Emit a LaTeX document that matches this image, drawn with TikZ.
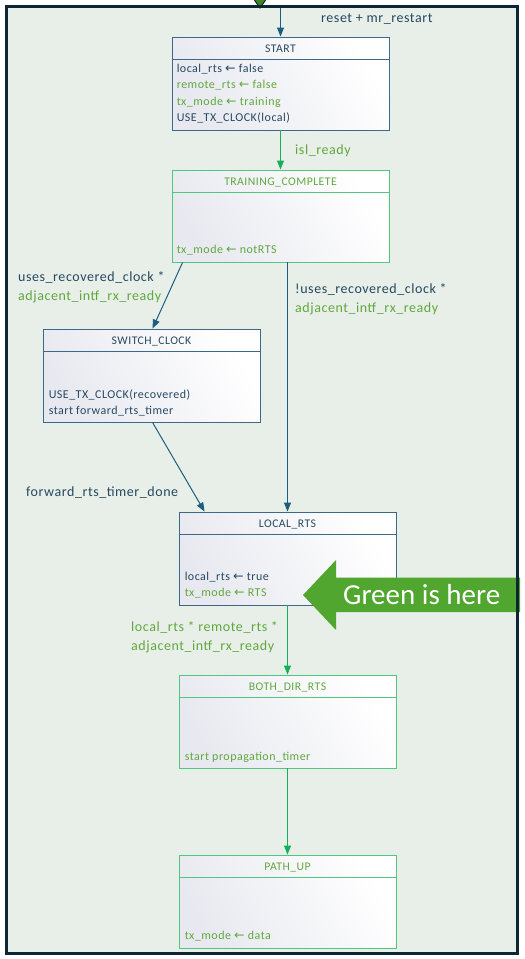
\documentclass[tikz,border=0pt]{standalone}
\usepackage{fontspec}
\setmainfont[LetterSpace=4]{Carlito}
\newfontfamily\symfont{DejaVu Sans}
\newfontfamily\calloutfont{Carlito}
\usetikzlibrary{arrows.meta,calc}

\definecolor{framebg}{RGB}{232,239,232}
\definecolor{framedark}{RGB}{12,38,54}
\definecolor{bluetxt}{RGB}{38,72,96}
\definecolor{blueline}{RGB}{28,94,128}
\definecolor{blueedge}{RGB}{60,105,135}
\definecolor{greentxt}{RGB}{96,168,62}
\definecolor{greenline}{RGB}{20,176,90}
\definecolor{greenedge}{RGB}{80,198,128}
\definecolor{boxgray}{RGB}{232,233,240}
\definecolor{callout}{RGB}{80,166,46}

% assignment arrow inside the state boxes
\newcommand{\asg}{{\symfont\fontsize{12.5}{12}\selectfont ←}}

\tikzset{
  state/.style={draw=blueedge, line width=0.9pt, minimum width=217pt,
    minimum height=93pt, left color=boxgray, right color=white,
    shading angle=120, inner sep=0pt},
  gstate/.style={state, draw=greenedge},
  title/.style={font=\fontsize{11.7}{14}\selectfont, inner sep=0pt, anchor=base},
  body/.style={font=\fontsize{12}{16.3}\selectfont, align=left, inner sep=0pt, anchor=base west},
  lbl/.style={font=\fontsize{14}{19}\selectfont, align=left, inner sep=0pt, anchor=base west},
  bluearrow/.style={draw=blueline, line width=1pt, -{Triangle[length=9pt,width=7pt]}},
  greenarrow/.style={draw=greenline, line width=1pt, -{Triangle[length=9pt,width=7pt]}}
}

\begin{document}
\begin{tikzpicture}[x=1pt,y=-1pt]
  \useasboundingbox (0,0) rectangle (525,959);
  \fill[white] (0,0) rectangle (525,959);
  %% Frame
  \fill[framebg] (6.5,6.5) rectangle (517.5,953.5);
  \filldraw[fill=callout!80!black, draw=framedark, line width=1pt]
    (253,-2) -- (267,-2) -- (260,8) -- cycle;

  %% States
  \node[state]  (start)  at (280.5,83.5) {};
  \node[gstate] (train)  at (280.5,216)  [minimum height=92pt] {};
  \node[state]  (switch) at (151.5,375.5) {};
  \node[state]  (local)  at (287.5,558.5) {};
  \node[gstate] (both)   at (287.5,721.5) {};
  \node[gstate] (path)   at (287.5,901.5) {};
  \foreach \b/\c in {start/blueedge,train/greenedge,switch/blueedge,
                     local/blueedge,both/greenedge,path/greenedge}
    \draw[\c, line width=0.9pt] ([yshift=-23pt]\b.north west) -- ([yshift=-23pt]\b.north east);

  %% Titles
  \node[title, text=bluetxt]  (start-t)  at ([yshift=-16pt]start.north)  {START};
  \node[title, text=greentxt] (train-t)  at ([yshift=-16pt]train.north)  {TRAINING\_COMPLETE};
  \node[title, text=bluetxt]  (switch-t) at ([yshift=-16pt]switch.north) {SWITCH\_CLOCK};
  \node[title, text=bluetxt]  (local-t)  at ([yshift=-16pt]local.north)  {LOCAL\_RTS};
  \node[title, text=greentxt] (both-t)   at ([yshift=-16pt]both.north)   {BOTH\_DIR\_RTS};
  \node[title, text=greentxt] (path-t)   at ([yshift=-16pt]path.north)   {PATH\_UP};

  %% Actions (base = last line)
  \node[body] (start-a) at ([xshift=5pt,yshift=-85pt]start.north west)
    {\color{bluetxt}local\_rts \asg{} false\\
     \color{greentxt}remote\_rts \asg{} false\\
     \color{greentxt}tx\_mode \asg{} training\\
     \color{bluetxt}USE\_TX\_CLOCK(local)};
  \node[body, text=greentxt] (train-a) at ([xshift=5pt,yshift=9pt]train.south west)
    {tx\_mode \asg{} notRTS};
  \node[body, text=bluetxt] (switch-a) at ([xshift=6pt,yshift=8pt]switch.south west)
    {USE\_TX\_CLOCK(recovered)\\start forward\_rts\_timer};
  \node[body] (local-a) at ([xshift=6pt,yshift=9pt]local.south west)
    {\color{bluetxt}local\_rts \asg{} true\\
     \color{greentxt}tx\_mode \asg{} RTS};
  \node[body, text=greentxt] (both-a) at ([xshift=6pt,yshift=8pt]both.south west)
    {start propagation\_timer};
  \node[body, text=greentxt] (path-a) at ([xshift=6pt,yshift=9pt]path.south west)
    {tx\_mode \asg{} data};

  %% Transitions
  \coordinate (entry) at (280.5,8);
  \draw[bluearrow]  (entry) -- (start.north);
  \draw[greenarrow] (start.south) -- (train.north);
  \draw[bluearrow]  ([xshift=11pt]train.south west) -- ([xshift=110pt]switch.north west);
  \draw[bluearrow]  (local.north |- train.south) -- (local.north);
  \draw[bluearrow]  ([xshift=110pt]switch.south west) -- ([xshift=26pt]local.north west);
  \draw[greenarrow] (local.south) -- (both.north);
  \draw[greenarrow] (both.south) -- (path.north);

  %% Guards (base = last line)
  \node[lbl, text=bluetxt]  (g-reset) at (321,22.5) {reset + mr\_restart};
  \node[lbl, text=greentxt] (g-isl)   at (295,154)  {isl\_ready};
  \node[lbl] (g-rec) at (18,300)
    {\color{bluetxt}uses\_recovered\_clock *\\\color{greentxt}adjacent\_intf\_rx\_ready};
  \node[lbl] (g-norec) at (295,312)
    {\color{bluetxt}!uses\_recovered\_clock *\\\color{greentxt}adjacent\_intf\_rx\_ready};
  \node[lbl, text=bluetxt]  (g-fwd)   at (26,496)   {forward\_rts\_timer\_done};
  \node[lbl, text=greentxt] (g-both)  at (131,650)
    {local\_rts * remote\_rts *\\adjacent\_intf\_rx\_ready};

  %% Callout
  \fill[callout] (303,595) -- (336,560) -- (336,577.5) -- (520,577.5)
    -- (520,612) -- (336,612) -- (336,630) -- cycle;
  \node[font=\calloutfont\fontsize{29}{30}\selectfont, text=white,
    inner sep=0pt, anchor=base west] (note) at (343,604) {Green is here};

  \draw[framedark, line width=3.6pt] (6.5,6.5) rectangle (517.5,953.5);
\end{tikzpicture}
\end{document}
